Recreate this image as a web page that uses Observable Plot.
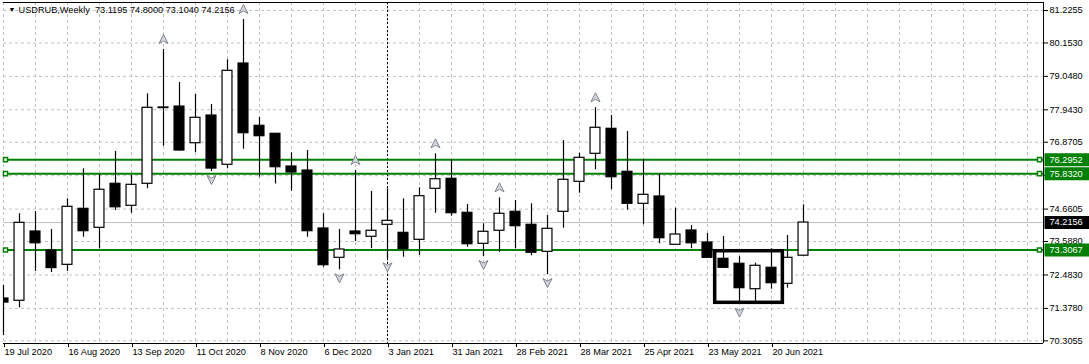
<!DOCTYPE html>
<html><head><meta charset="utf-8">
<script src="https://cdn.jsdelivr.net/npm/d3@7"></script>
<script src="https://cdn.jsdelivr.net/npm/@observablehq/plot@0.6"></script>
<style>
html,body{margin:0;padding:0;background:#fff;}
#chart{width:1089px;height:364px;overflow:hidden;}
</style></head><body><div id="chart"></div>
<script>
// ---- data ----
const headerText = "USDRUB,Weekly\u00a0\u00a073.1195 74.8000 73.1040 74.2156";
const opens  = [71.705,71.629,73.92,73.29,72.818,74.67,74.042,75.497,74.769,75.497,
                78.00,78.05,76.839,77.754,76.125,79.473,77.414,77.15,76.068,75.936,
                74.019,73.05,73.92,73.745,74.141,73.876,73.645,75.331,75.662,74.538,
                73.513,73.943,74.571,74.141,73.248,74.571,75.562,76.488,77.315,75.893,
                74.835,75.077,73.48,73.953,73.556,73.017,72.852,72.012,72.72,72.19,73.1195];
const highs  = [72.135,74.505,74.58,73.985,75.0,75.993,75.80,76.564,75.77,78.471,
                79.936,78.845,78.449,78.118,79.596,80.928,77.688,77.16,76.521,76.597,
                74.505,73.985,75.936,75.242,75.331,75.0,75.364,76.488,76.29,74.812,
                74.174,75.034,74.945,74.835,74.449,76.928,76.508,78.009,77.754,77.225,
                76.31,75.827,74.69,74.117,73.853,73.754,73.093,72.872,73.348,73.787,74.8];
const lows   = [70.48,71.397,72.60,72.564,72.60,73.73,73.348,74.614,74.525,75.331,
                76.74,76.574,76.531,75.903,75.992,76.64,75.715,75.49,75.252,73.73,
                72.74,72.653,73.589,73.348,73.017,73.07,73.126,74.525,74.425,73.4,
                73.093,73.235,73.348,73.116,72.498,74.029,75.186,75.959,75.298,74.624,
                74.141,73.513,73.47,73.348,73.05,72.71,71.52,71.615,72.012,72.045,73.104];
const closes = [71.57,74.207,73.53,72.71,74.736,73.93,75.30,74.72,75.463,78.009,
                78.02,76.597,77.678,76.0,79.232,77.169,77.07,76.045,75.87,73.93,
                72.806,73.325,73.83,73.943,74.273,73.335,75.087,75.648,74.525,73.5,
                73.91,74.505,74.095,73.216,74.009,75.629,76.356,77.348,75.715,74.835,
                75.133,73.698,73.82,73.53,73.05,72.72,72.045,72.786,72.21,73.05,74.2156];
const dateTickIdx = [0,4,8,12,16,20,24,28,32,36,40,44,48];
const dateTickLabels = ["19 Jul 2020","16 Aug 2020","13 Sep 2020","11 Oct 2020","8 Nov 2020","6 Dec 2020",
  "3 Jan 2021","31 Jan 2021","28 Feb 2021","28 Mar 2021","25 Apr 2021","23 May 2021","20 Jun 2021"];
const priceTicks = [81.2255,80.1530,79.0480,77.9430,76.8705,75.7655,74.6605,73.5880,72.4830,71.3780,70.3055];
const levelPrices = [76.2952, 75.8320, 73.3067];
const bidPrice = 74.2156;
const separatorIdx = [24];
const fractalUpIdx = [10,15,22,27,31,37];
const fractalDownIdx = [13,21,24,30,34,46];
const boxStartIdx = 44.48, boxEndIdx = 48.71, boxTop = 73.268, boxBottom = 71.562;
const xDomain = [0, 65];
const yDomain = [70.217, 81.490];

// ---- build ----
const bars = opens.map((o, i) => ({i, o, h: highs[i], l: lows[i], c: closes[i]}));
const bull = bars.filter(d => d.c >= d.o);
const bear = bars.filter(d => d.c < d.o);
const gridIdx = d3.range(xDomain[0], xDomain[1], 2);
const FONT = "Liberation Sans, Arial, sans-serif";
const FS = 9.2;
const HW = 0.31;

const upArrow = {draw(ctx){ctx.moveTo(0,-5);ctx.lineTo(4.5,4);ctx.lineTo(0,1.5);ctx.lineTo(-4.5,4);ctx.closePath();}};
const downArrow = {draw(ctx){ctx.moveTo(0,5);ctx.lineTo(4.5,-4);ctx.lineTo(0,-1.5);ctx.lineTo(-4.5,-4);ctx.closePath();}};
const labelBox = {draw(ctx){ctx.moveTo(-22.5,-6.5);ctx.lineTo(22.5,-6.5);ctx.lineTo(22.5,6.5);ctx.lineTo(-22.5,6.5);ctx.closePath();}};

const greenLabels = levelPrices.map(v => ({v}));
const bidLabels = [{v: bidPrice}];
const xRight = () => xDomain[1];
const xLeft = () => xDomain[0];

const chart = Plot.plot({
  width: 1089, height: 364,
  marginLeft: 3, marginRight: 46, marginTop: 2, marginBottom: 21,
  style: {fontFamily: FONT, fontSize: FS + "px", background: "#fff", color: "#000", overflow: "visible"},
  x: {domain: xDomain, axis: null},
  y: {domain: yDomain, axis: null},
  marks: [
    Plot.ruleX(gridIdx, {stroke: "#c0c0c0", strokeDasharray: "3,3"}),
    Plot.ruleY(priceTicks, {stroke: "#c0c0c0", strokeDasharray: "3,3"}),
    Plot.ruleY([bidPrice], {stroke: "#c0c0c0"}),
    Plot.ruleX(separatorIdx, {stroke: "#000", strokeDasharray: "2,2"}),
    Plot.ruleY(levelPrices, {stroke: "#008000", strokeWidth: 2}),
    Plot.dot(greenLabels, {x: xLeft, y: "v", dx: 2, symbol: "square", r: 2.3, fill: "#fff", stroke: "#008000", strokeWidth: 1.5}),
    Plot.dot(greenLabels, {x: xRight, y: "v", dx: -4, symbol: "square", r: 2.3, fill: "#fff", stroke: "#008000", strokeWidth: 1.5}),
    Plot.ruleX(bars, {x: "i", y1: "l", y2: "h", stroke: "#000", strokeWidth: 1.2}),
    Plot.rect(bull, {x1: d => d.i - HW, x2: d => d.i + HW, y1: "o", y2: "c", fill: "#fff", stroke: "#000", strokeWidth: 1.2, clip: true}),
    Plot.rect(bear, {x1: d => d.i - HW, x2: d => d.i + HW, y1: "o", y2: "c", fill: "#000", stroke: "#000", strokeWidth: 1.2, clip: true}),
    Plot.rect([{a: boxStartIdx, b: boxEndIdx, t: boxTop, u: boxBottom}], {x1: "a", x2: "b", y1: "t", y2: "u", fill: "none", stroke: "#000", strokeWidth: 3.5}),
    Plot.dot(fractalUpIdx.map(i => bars[i]), {x: "i", y: "h", dy: -10, symbol: upArrow, fill: "#d4d7de", stroke: "#80848c", strokeWidth: 1}),
    Plot.dot(fractalDownIdx.map(i => bars[i]), {x: "i", y: "l", dy: 8, symbol: downArrow, fill: "#d4d7de", stroke: "#80848c", strokeWidth: 1}),
    // frame (top, right, bottom)
    Plot.ruleY([yDomain[1], yDomain[0]], {stroke: "#000"}),
    Plot.ruleX([xDomain[1]], {stroke: "#000"}),
    // axes
    Plot.axisY({anchor: "right", ticks: priceTicks, tickFormat: d => d.toFixed(4), tickSize: 4, tickPadding: 2, fontSize: FS, label: null, stroke: "#000", fill: "#000"}),
    Plot.axisX({anchor: "bottom", ticks: dateTickIdx, tickFormat: d => dateTickLabels[dateTickIdx.indexOf(d)], tickSize: 4, tickPadding: 1, textAnchor: "start", dx: 1, fontSize: FS, label: null, stroke: "#000", fill: "#000"}),
    // price label boxes
    Plot.dot(greenLabels, {x: xRight, y: "v", dx: 23.5, symbol: labelBox, fill: "#008000", stroke: "none"}),
    Plot.dot(bidLabels, {x: xRight, y: "v", dx: 23.5, symbol: labelBox, fill: "#000", stroke: "none"}),
    Plot.text(greenLabels, {x: xRight, y: "v", text: d => d.v.toFixed(4), dx: 6, textAnchor: "start", fill: "#fff", fontSize: FS}),
    Plot.text(bidLabels, {x: xRight, y: "v", text: d => d.v.toFixed(4), dx: 6, textAnchor: "start", fill: "#fff", fontSize: FS}),
    // header
    Plot.text(["\u25BC"], {frameAnchor: "top-left", dx: 5, dy: 5, textAnchor: "start", lineAnchor: "top", fontSize: 7, fill: "#000"}),
    Plot.text([headerText], {frameAnchor: "top-left", dx: 15, dy: 3.5, textAnchor: "start", lineAnchor: "top", fontSize: FS, fill: "#000"})
  ]
});
document.getElementById("chart").appendChild(chart);
</script>
</body></html>
